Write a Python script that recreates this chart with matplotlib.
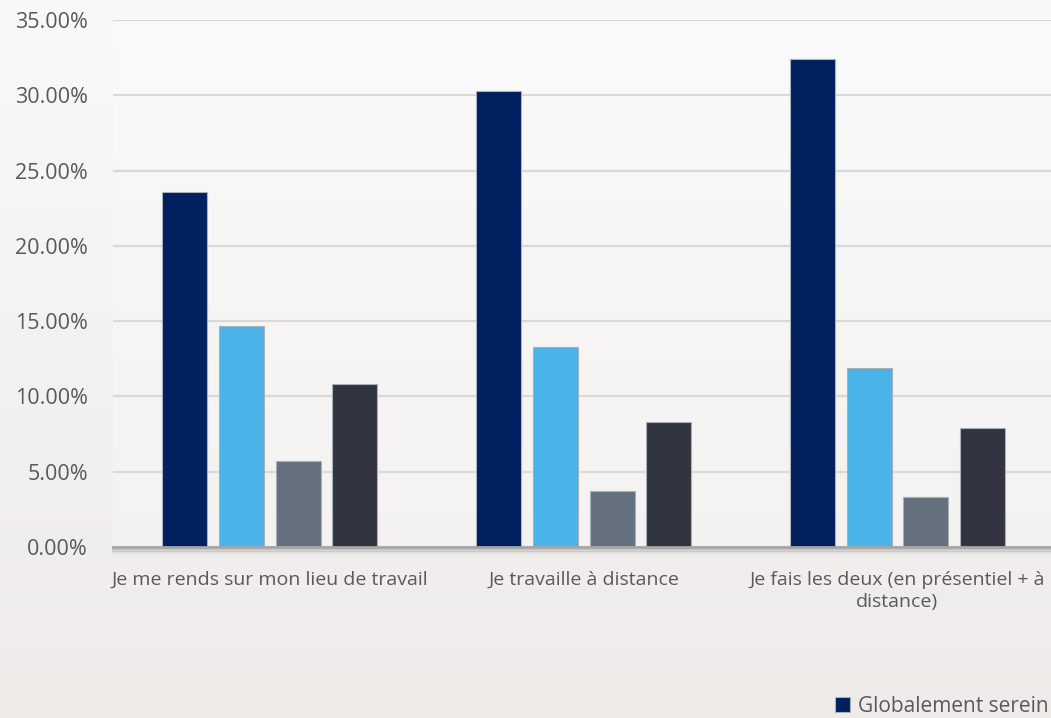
import matplotlib
matplotlib.use("Agg")
import matplotlib.pyplot as plt
import numpy as np

categories = ["Je me rends sur mon lieu de travail",
              "Je travaille à distance",
              "Je fais les deux (en présentiel + à\ndistance)"]
series_names = ["Globalement serein", "Série 2", "Série 3", "Série 4"]
values = [
    [23.6, 30.3, 32.4],   # Globalement serein
    [14.7, 13.3, 11.9],
    [5.7, 3.7, 3.3],
    [10.8, 8.3, 7.9],
]
colors = ["#00205F", "#4AB3E8", "#65707F", "#32353F"]
yticks = [0, 5, 10, 15, 20, 25, 30, 35]

plt.rcParams['font.family'] = ['Open Sans', 'DejaVu Sans']

W, H = 1051, 718
fig = plt.figure(figsize=(W/100, H/100), dpi=100)

# background gradient
bg = fig.add_axes([0, 0, 1, 1], zorder=-10)
grad = np.linspace(0, 1, 256).reshape(-1, 1)
top = np.array([249, 249, 249]) / 255
bot = np.array([238, 235, 233]) / 255
img = top[None, None, :] * (1 - grad[..., None]) + bot[None, None, :] * grad[..., None]
bg.imshow(img, aspect='auto', extent=[0, 1, 0, 1], interpolation='bilinear')
bg.axis('off')

left = 113 / W
bottom = 1 - 547 / H
topy = 1 - 20 / H
ax = fig.add_axes([left, bottom, 1 - left, topy - bottom])
ax.patch.set_facecolor("white")
ax.patch.set_alpha(0.25)

x = np.arange(len(categories))
offsets = [-0.271, -0.089, 0.091, 0.271]
width = 0.1435
handles = []
for i, (vals, c, name) in enumerate(zip(values, colors, series_names)):
    b = ax.bar(x + offsets[i], vals, width=width, color=c, edgecolor="#A9B0BA",
               linewidth=0.8, label=name, zorder=3)
    handles.append(b)

ax.set_xlim(-0.5, 2.49)
ax.set_ylim(0, 35)
ax.set_yticks(yticks)
ax.set_yticklabels([f"{v:.2f}%" for v in yticks])
ax.yaxis.grid(True, color="#D9D9D9", linewidth=1.6, zorder=0)
ax.set_axisbelow(True)
for s in ["top", "right", "left"]:
    ax.spines[s].set_visible(False)
ax.spines["bottom"].set_color("#A6A6A6")
ax.spines["bottom"].set_linewidth(2)
ax.spines["bottom"].set_zorder(4)
# shadow under axis line
for k, a in enumerate([0.35, 0.22, 0.12, 0.05]):
    ax.axhline(-0.12 * (k + 1), color="#808080", alpha=a, linewidth=1.5, clip_on=False, zorder=2)

ax.tick_params(axis='y', length=0, pad=18, labelsize=15.5, labelcolor="#595959")
ax.tick_params(axis='x', length=0, pad=17, labelsize=14, labelcolor="#595959")
ax.set_xticks(x)
ax.set_xticklabels(categories, linespacing=1.33)

fig.legend(handles=[handles[0]], labels=[series_names[0]], loc='center left',
           bbox_to_anchor=(835 / W, 1 - 706 / H), frameon=False, fontsize=15,
           handlelength=0.7, handleheight=0.7, handletextpad=0.4,
           labelcolor="#595959", borderaxespad=0, borderpad=0)

fig.savefig("out.png", dpi=100)
